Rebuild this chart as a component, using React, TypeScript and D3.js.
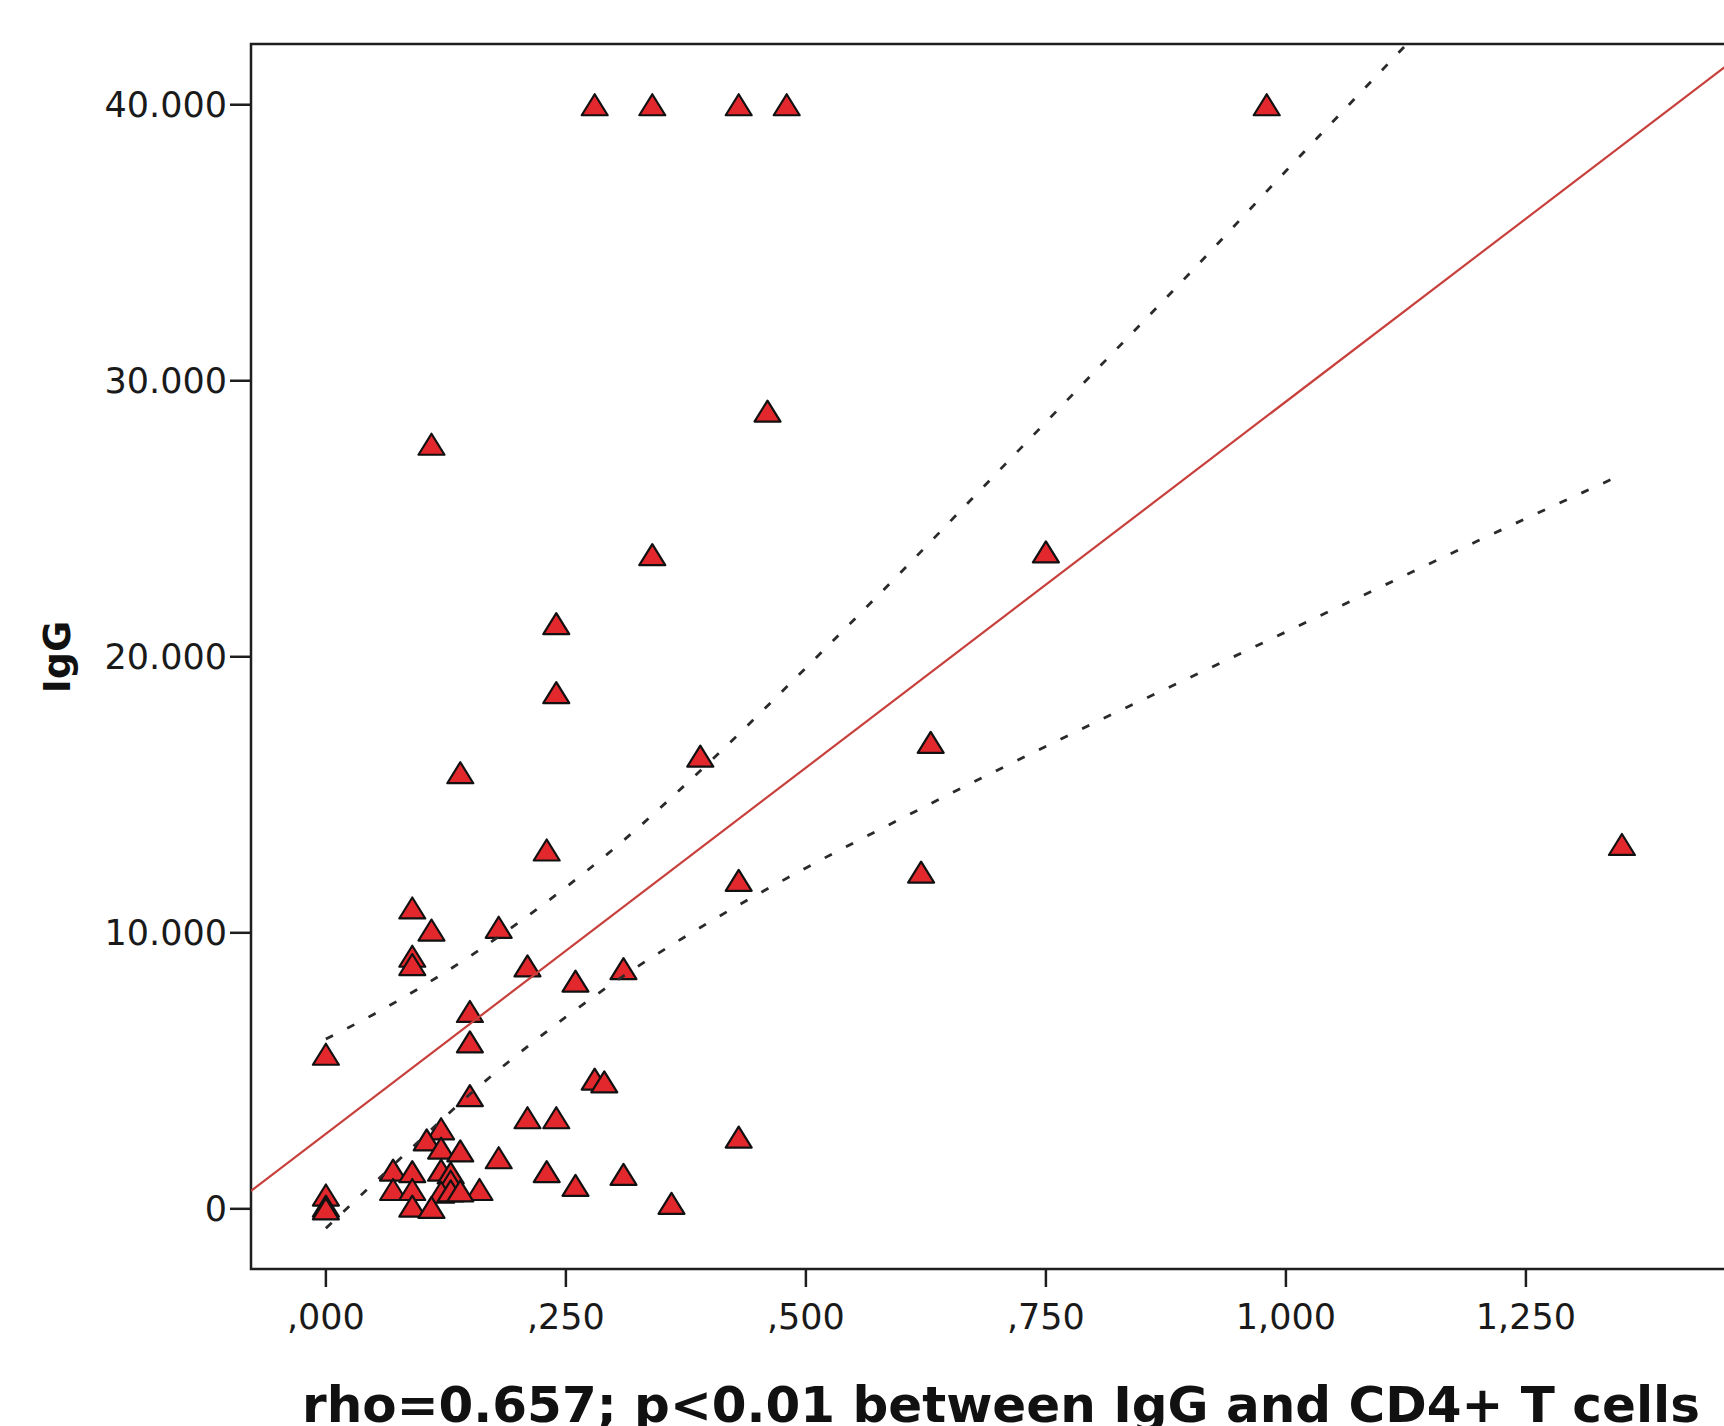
import React, { useEffect, useRef } from "react";
import * as d3 from "d3";

// CD4+ T cells (x) and IgG (y)
const cd4Cells = [
  0.28, 0.34, 0.43, 0.48, 0.98,
  0.46, 0.11, 0.34, 0.75, 0.24, 0.24, 0.39, 0.63, 0.14, 0.23, 1.35,
  0.62, 0.43, 0.09, 0.11, 0.18, 0.09, 0.09, 0.21, 0.31, 0.26, 0.15,
  0.15, 0.0, 0.15, 0.28, 0.29, 0.21, 0.24, 0.43, 0.18, 0.23, 0.31,
  0.26, 0.36, 0.16, 0.0, 0.0, 0.0,
  0.12, 0.105, 0.12, 0.14, 0.07, 0.09, 0.12, 0.13, 0.13, 0.07, 0.09,
  0.12, 0.13, 0.14, 0.09, 0.11,
];
const iggLevels = [
  40000, 40000, 40000, 40000, 40000,
  28900, 27700, 23700, 23800, 21200, 18700, 16400, 16900, 15800, 13000, 13200,
  12200, 11900, 10900, 10100, 10200, 9150, 8850, 8800, 8700, 8250, 7150,
  6050, 5600, 4100, 4700, 4600, 3300, 3300, 2600, 1850, 1350, 1250,
  850, 200, 700, 500, 100, 0,
  2900, 2500, 2200, 2100, 1400, 1350, 1400, 1300, 1000, 700, 700,
  600, 650, 650, 100, 50,
];

// fit line ends and mean confidence band
const fitX = [-0.078, 1.473];
const fitY = [650, 41790];
const bandX = [0, 0.05, 0.1, 0.15, 0.2, 0.25, 0.3, 0.4, 0.5, 0.6, 0.7, 0.8, 0.9, 1.0, 1.1, 1.2, 1.35];
const bandUpper = [6150, 7050, 8050, 9150, 10350, 11650, 13050, 16200, 19600, 23100, 26700, 30300, 33900, 37600, 41250, 44900, 50400];
const bandLower = [-700, 930, 2550, 4150, 5600, 6950, 8200, 10400, 12350, 14150, 15900, 17600, 19250, 20900, 22550, 24200, 26600];

const xTicks = [0, 0.25, 0.5, 0.75, 1.0, 1.25];
const xTickLabels = [",000", ",250", ",500", ",750", "1,000", "1,250"];
const yTicks = [0, 10000, 20000, 30000, 40000];
const yTickLabels = ["0", "10.000", "20.000", "30.000", "40.000"];

const titleText = "rho=0.657; p<0.01 between IgG and CD4+ T cells";
const yTitle = "IgG";

const App = () => {
  const svgRef = useRef(null);

  useEffect(() => {
    document.body.style.margin = "0";
    const svg = d3.select(svgRef.current);
    svg.selectAll("*").remove();

    const left = 251;
    const top = 44;
    const right = 1740;
    const bottom = 1269;
    const font = "'DejaVu Sans', Verdana, sans-serif";

    const x = d3.scaleLinear().domain([-0.078, 1.473]).range([left, right]);
    const y = d3.scaleLinear().domain([-2180, 42200]).range([bottom, top]);

    svg
      .append("defs")
      .append("clipPath")
      .attr("id", "plot-clip")
      .append("rect")
      .attr("x", left)
      .attr("y", top)
      .attr("width", right - left)
      .attr("height", bottom - top);

    // frame
    svg
      .append("rect")
      .attr("x", left)
      .attr("y", top)
      .attr("width", right - left)
      .attr("height", bottom - top)
      .attr("fill", "none")
      .attr("stroke", "#1e1e1e")
      .attr("stroke-width", 2.5);

    // y ticks
    const yAxis = svg.append("g");
    yTicks.forEach((t, i) => {
      yAxis
        .append("line")
        .attr("x1", left - 21)
        .attr("x2", left)
        .attr("y1", y(t))
        .attr("y2", y(t))
        .attr("stroke", "#1e1e1e")
        .attr("stroke-width", 2.5);
      yAxis
        .append("text")
        .attr("x", left - 24)
        .attr("y", y(t))
        .attr("dy", "0.36em")
        .attr("text-anchor", "end")
        .attr("font-family", font)
        .attr("font-size", 35)
        .attr("fill", "#1a1a1a")
        .text(yTickLabels[i]);
    });

    // x ticks
    const xAxis = svg.append("g");
    xTicks.forEach((t, i) => {
      xAxis
        .append("line")
        .attr("x1", x(t))
        .attr("x2", x(t))
        .attr("y1", bottom)
        .attr("y2", bottom + 18)
        .attr("stroke", "#1e1e1e")
        .attr("stroke-width", 2.5);
      xAxis
        .append("text")
        .attr("x", x(t))
        .attr("y", 1329)
        .attr("text-anchor", "middle")
        .attr("font-family", font)
        .attr("font-size", 35)
        .attr("fill", "#1a1a1a")
        .text(xTickLabels[i]);
    });

    const plot = svg.append("g").attr("clip-path", "url(#plot-clip)");

    // points
    const tri = "M0,-10.5L13,10.5L-13,10.5Z";
    plot
      .selectAll("path.pt")
      .data(cd4Cells.map((v, i) => [v, iggLevels[i]]))
      .join("path")
      .attr("class", "pt")
      .attr("d", tri)
      .attr("transform", (d) => `translate(${x(d[0])},${y(d[1])})`)
      .attr("fill", "#e3282d")
      .attr("stroke", "#111")
      .attr("stroke-width", 2.2)
      .attr("stroke-linejoin", "round");

    // fit line
    const fitLine = d3
      .line()
      .x((d) => x(d[0]))
      .y((d) => y(d[1]));

    plot
      .append("path")
      .datum(fitX.map((v, i) => [v, fitY[i]]))
      .attr("fill", "none")
      .attr("stroke", "#c8403c")
      .attr("stroke-width", 2.2)
      .attr("d", fitLine);

    // confidence band
    const bandLine = d3
      .line()
      .x((d) => x(d[0]))
      .y((d) => y(d[1]))
      .curve(d3.curveMonotoneX);

    [bandUpper, bandLower].forEach((band) => {
      plot
        .append("path")
        .datum(bandX.map((v, i) => [v, band[i]]))
        .attr("fill", "none")
        .attr("stroke", "#2a2a2a")
        .attr("stroke-width", 2.8)
        .attr("stroke-dasharray", "8 16")
        .attr("d", bandLine);
    });

    // titles
    svg
      .append("text")
      .attr("transform", `translate(70,657) rotate(-90)`)
      .attr("text-anchor", "middle")
      .attr("font-family", font)
      .attr("font-weight", "bold")
      .attr("font-size", 38)
      .attr("fill", "#111")
      .text(yTitle);

    svg
      .append("text")
      .attr("x", 1001)
      .attr("y", 1422)
      .attr("text-anchor", "middle")
      .attr("font-family", font)
      .attr("font-weight", "bold")
      .attr("font-size", 50)
      .attr("fill", "#111")
      .text(titleText);
  }, []);

  return (
    <svg
      ref={svgRef}
      width={1724}
      height={1426}
      style={{ display: "block", background: "#fff" }}
    ></svg>
  );
};

export default App;
